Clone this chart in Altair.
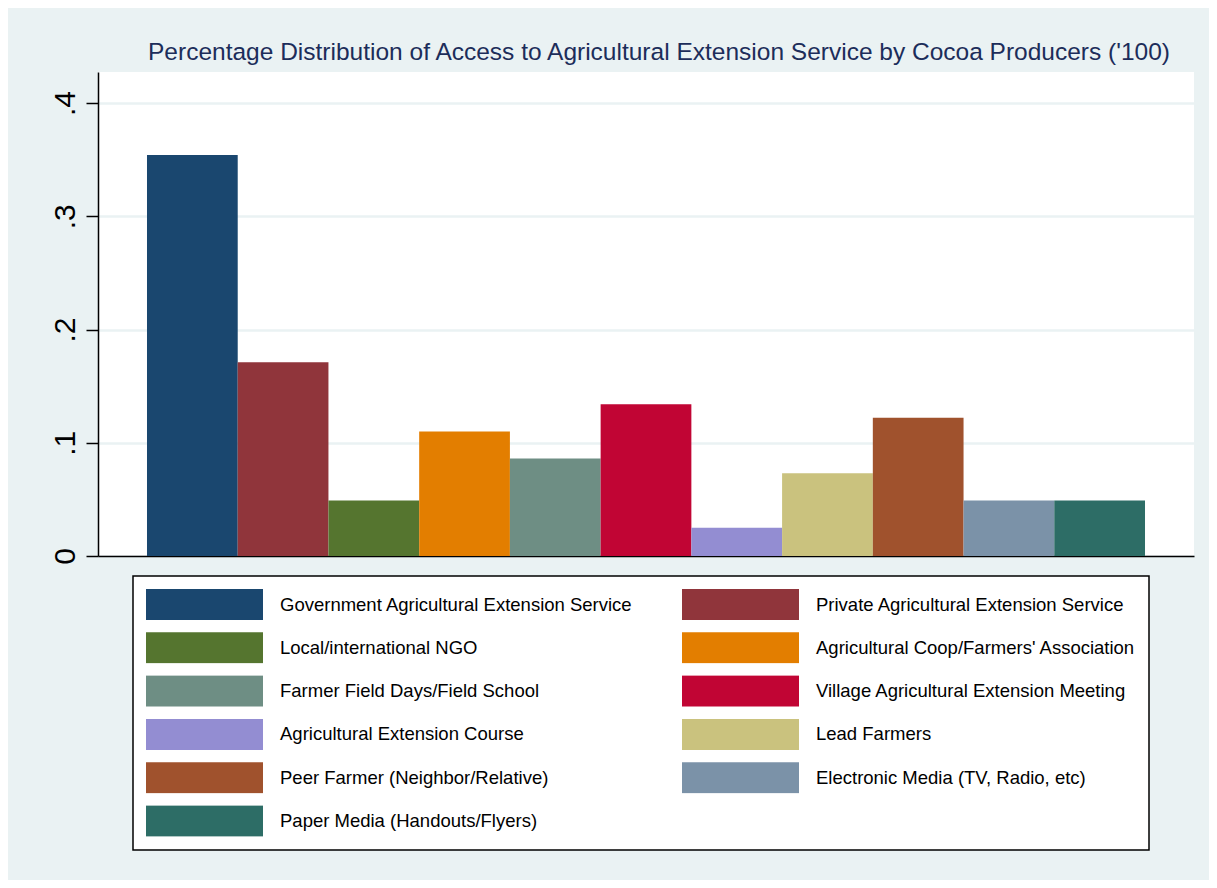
import altair as alt
import pandas as pd

categories = [
    "Government Agricultural Extension Service",
    "Private Agricultural Extension Service",
    "Local/international NGO",
    "Agricultural Coop/Farmers' Association",
    "Farmer Field Days/Field School",
    "Village Agricultural Extension Meeting",
    "Agricultural Extension Course",
    "Lead Farmers",
    "Peer Farmer (Neighbor/Relative)",
    "Electronic Media (TV, Radio, etc)",
    "Paper Media (Handouts/Flyers)",
]
values = [0.354, 0.171, 0.049, 0.110, 0.086, 0.134, 0.025, 0.073, 0.122, 0.049, 0.049]
colors = ["#1A476F", "#90353B", "#55752F", "#E37E00", "#6E8E84", "#C10534",
          "#938DD2", "#CAC27E", "#A0522D", "#7B92A8", "#2D6D66"]
y_ticks = [0, 0.1, 0.2, 0.3, 0.4]

# legend is filled column by column; this order shows the entries row by row
legend_order = [0, 2, 4, 6, 8, 10, 1, 3, 5, 7, 9]
legend_domain = [categories[i] for i in legend_order]
legend_range = [colors[i] for i in legend_order]

df = pd.DataFrame({"cat": categories, "val": values})

label_expr = "datum.value == 0 ? '0' : replace(format(datum.value, '.1f'), '0.', '.')"

chart = alt.Chart(df).mark_bar(strokeWidth=0).encode(
    x=alt.X("cat:N", sort=categories, title=None,
            scale=alt.Scale(paddingInner=0, paddingOuter=0.54),
            axis=alt.Axis(labels=False, ticks=False, domain=True, domainColor="black",
                          domainWidth=1.5, grid=False)),
    y=alt.Y("val:Q", title=None,
            scale=alt.Scale(domain=[0, 0.4274], nice=False, zero=True),
            axis=alt.Axis(values=y_ticks, labelExpr=label_expr, labelAngle=270,
                          labelFontSize=30, labelFont="Liberation Sans", labelColor="black",
                          labelPadding=6, tickSize=12, tickColor="black", tickWidth=1.5,
                          domainColor="black", domainWidth=1.5,
                          grid=True, gridColor="#EAF2F3", gridWidth=2.5)),
    color=alt.Color("cat:N", sort=legend_domain,
                    scale=alt.Scale(domain=legend_domain, range=legend_range),
                    legend=alt.Legend(
                        title=None, orient="none", legendX=35, legendY=504,
                        columns=2, columnPadding=49, rowPadding=12.3,
                        symbolType="M-1,-0.27H1V0.27H-1Z", symbolSize=13689,
                        symbolStrokeWidth=0, clipHeight=31,
                        labelFontSize=18.5, labelFont="Liberation Sans", labelColor="black",
                        labelOffset=17, labelLimit=600,
                        fillColor="white", strokeColor="black",
                        padding=13)),
).properties(
    width=1096, height=484,
    title=alt.TitleParams(
        "Percentage Distribution of Access to Agricultural Extension Service by Cocoa Producers ('100)",
        anchor="middle", frame="group", fontSize=24.5, font="Liberation Sans",
        fontWeight="normal", color="#1C2D5A", offset=7, dx=13),
    padding={"left": 90, "top": 64, "right": 15, "bottom": 324},
    autosize=alt.AutoSizeParams(type="none"),
    background="#EAF2F3",
).configure_view(fill="white", stroke=None).configure_legend(strokeWidth=1.5)

chart.save("out.html", embed_options={"renderer": "svg", "actions": False})
